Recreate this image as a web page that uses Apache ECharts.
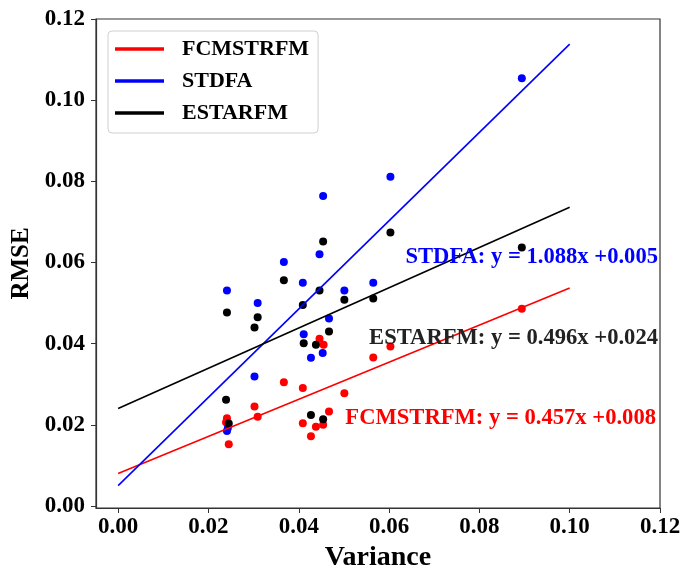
<!DOCTYPE html>
<html>
<head>
<meta charset="utf-8">
<script src="https://cdn.jsdelivr.net/npm/echarts@6/dist/echarts.min.js"></script>
<style>html,body{margin:0;padding:0;background:#fff}#c{width:683px;height:566px}</style>
</head>
<body>
<div id="c"></div>
<script>
// ---- data ----
const seriesNames = ['FCMSTRFM', 'STDFA', 'ESTARFM'];
const seriesColors = ['#ff0000', '#0000ff', '#000000'];
const fcmstrfmPoints = [[0.0241,0.0216],[0.0239,0.0206],[0.0245,0.0152],[0.0302,0.0245],[0.0309,0.0220],[0.0367,0.0305],[0.0409,0.0291],[0.0409,0.0204],[0.0427,0.0172],[0.0438,0.0195],[0.0446,0.0412],[0.0455,0.0397],[0.0454,0.0200],[0.0467,0.0233],[0.0501,0.0278],[0.0565,0.0366],[0.0603,0.0393],[0.0894,0.0486]];
const stdfaPoints = [[0.0241,0.0531],[0.0241,0.0185],[0.0243,0.0192],[0.0302,0.0319],[0.0309,0.0500],[0.0367,0.0601],[0.0409,0.0550],[0.0411,0.0423],[0.0427,0.0365],[0.0446,0.0620],[0.0453,0.0377],[0.0454,0.0764],[0.0467,0.0462],[0.0501,0.0531],[0.0565,0.0550],[0.0603,0.0811],[0.0894,0.1054]];
const estarfmPoints = [[0.0241,0.0477],[0.0239,0.0262],[0.0245,0.0203],[0.0302,0.0440],[0.0309,0.0465],[0.0367,0.0556],[0.0409,0.0495],[0.0411,0.0401],[0.0427,0.0224],[0.0438,0.0397],[0.0446,0.0531],[0.0454,0.0652],[0.0454,0.0214],[0.0467,0.0430],[0.0501,0.0508],[0.0565,0.0511],[0.0603,0.0674],[0.0894,0.0637]];
const fcmstrfmFit = [[0, 0.008], [0.1, 0.0537]];
const stdfaFit = [[0, 0.005], [0.1, 0.1138]];
const estarfmFit = [[0, 0.024], [0.1, 0.0736]];
const tickValues = [0, 0.02, 0.04, 0.06, 0.08, 0.10, 0.12];
const equations = ['STDFA: y = 1.088x +0.005', 'ESTARFM: y = 0.496x +0.024', 'FCMSTRFM: y = 0.457x +0.008'];
const equationColors = ['#0000ff', '#222222', '#ff0000'];

const FONT = '"Liberation Serif", "Times New Roman", serif';
const pointsList = [fcmstrfmPoints, stdfaPoints, estarfmPoints];
const fitList = [fcmstrfmFit, stdfaFit, estarfmFit];

const chart = echarts.init(document.getElementById('c'), null, {renderer: 'canvas'});

const series = [];
pointsList.forEach((pts, i) => {
  series.push({
    name: seriesNames[i] + ' points',
    type: 'scatter',
    data: pts,
    symbolSize: 8,
    itemStyle: {color: seriesColors[i], opacity: 1},
    z: 2,
    silent: true
  });
});
fitList.forEach((fit, i) => {
  series.push({
    name: seriesNames[i],
    type: 'line',
    data: fit,
    showSymbol: false,
    symbol: 'none',
    lineStyle: {color: seriesColors[i], width: 1.6},
    itemStyle: {color: seriesColors[i]},
    z: 3,
    silent: true
  });
});

const axisCommon = {
  axisLine: {show: true, onZero: false, lineStyle: {color: '#333', width: 1.2}},
  axisTick: {show: true, inside: false, length: 5, lineStyle: {color: '#333', width: 1}, customValues: tickValues},
  axisLabel: {
    color: '#000', fontFamily: FONT, fontWeight: 'bold', fontSize: 23,
    customValues: tickValues,
    formatter: v => Number(v).toFixed(2)
  },
  splitLine: {show: false}
};

const option = {
  animation: false,
  backgroundColor: '#fff',
  grid: {left: 96, right: 23, top: 19, bottom: 58, show: true, borderColor: '#333', borderWidth: 1.2, containLabel: false, outerBoundsMode: 'none'},
  xAxis: Object.assign({}, axisCommon, {
    type: 'value', min: -0.0049, max: 0.12,
    name: 'Variance', nameLocation: 'middle', nameGap: 32,
    nameTextStyle: {color: '#000', fontFamily: FONT, fontWeight: 'bold', fontSize: 28},
    axisLabel: Object.assign({}, axisCommon.axisLabel, {margin: 8})
  }),
  yAxis: Object.assign({}, axisCommon, {
    type: 'value', min: -0.0005, max: 0.12,
    name: 'RMSE', nameLocation: 'middle', nameGap: 56, nameRotate: 90,
    nameTextStyle: {color: '#000', fontFamily: FONT, fontWeight: 'bold', fontSize: 25},
    axisLabel: Object.assign({}, axisCommon.axisLabel, {margin: 11})
  }),
  legend: {
    data: seriesNames.map(n => ({name: n, icon: 'rect'})),
    orient: 'vertical',
    left: 108, top: 31,
    padding: [7, 9, 9, 7],
    itemWidth: 49, itemHeight: 3.5,
    itemGap: 10,
    borderColor: '#d0d0d0', borderWidth: 1, borderRadius: 4,
    backgroundColor: '#fff',
    textStyle: {color: '#000', fontFamily: FONT, fontWeight: 'bold', fontSize: 22, padding: [0, 0, 0, 13]},
    selectedMode: false
  },
  graphic: [
    {type: 'text', right: 25, top: 246, z: 10, style: {text: equations[0], fill: equationColors[0], font: 'bold 22.6px ' + FONT}},
    {type: 'text', right: 25, top: 327, z: 10, style: {text: equations[1], fill: equationColors[1], font: 'bold 22.6px ' + FONT}},
    {type: 'text', right: 27, top: 407, z: 10, style: {text: equations[2], fill: equationColors[2], font: 'bold 22.6px ' + FONT}}
  ],
  series: series
};
chart.setOption(option);
</script>
</body>
</html>
